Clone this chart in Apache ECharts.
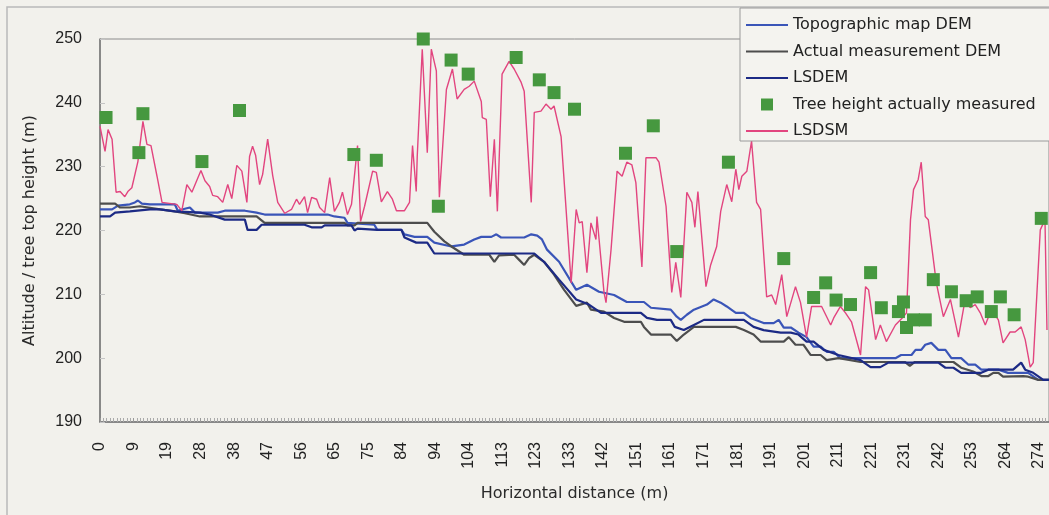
<!DOCTYPE html>
<html><head><meta charset="utf-8">
<script src="https://cdn.jsdelivr.net/npm/echarts@6/dist/echarts.min.js"></script>
<style>html,body{margin:0;padding:0;background:#f2f1ec;}#c{width:1049px;height:515px;}</style>
</head><body><div id="c"></div>
<script>
// x values are sample indices along the profile; tickLabels give the distance (m) every 10 samples
const tickLabels = ['0','9','19','28','38','47','56','65','75','84','94','104','113','123','133','142','151','161','171','181','191','201','211','221','231','242','253','264','274'];
const seriesNames = ['Topographic map DEM','Actual measurement DEM','LSDEM','Tree height actually measured','LSDSM'];

const topoDEM = [[0,223.3],[3.6,223.3],[5.4,223.9],[8.9,224.1],[10.4,224.4],[11.3,224.7],[12.5,224.2],[14.9,224.1],[22.3,224.1],[23.2,223.1],[25.3,223.4],[26.8,223.6],[28.3,222.8],[35.1,222.8],[37.2,223.1],[43.2,223.1],[46.7,222.8],[49.1,222.5],[67.9,222.5],[69.9,222.2],[72.9,222.0],[73.8,221.2],[81.8,220.9],[82.7,220.1],[89.9,220.1],[90.8,219.4],[93.8,219.0],[97.6,219.0],[99.7,218.1],[104.8,217.5],[108.6,217.8],[111.6,218.6],[113.7,219.0],[116.7,219.0],[118.2,219.4],[119.6,218.9],[126.5,218.9],[128.6,219.4],[130.4,219.2],[131.8,218.6],[133.3,217.0],[136.9,215.1],[142.0,210.7],[145.2,211.5],[148.8,210.4],[153.3,209.9],[157.1,208.8],[162.2,208.8],[164.3,207.9],[170.2,207.6],[172.0,206.5],[173.2,206.0],[175.0,206.8],[177.1,207.6],[181.0,208.4],[183.0,209.2],[185.1,208.7],[186.9,208.1],[189.6,207.1],[192.0,207.1],[194.0,206.3],[197.9,205.5],[200.9,205.5],[202.4,206.0],[203.9,204.8],[206.0,204.8],[208.3,204.0],[210.7,203.3],[212.8,201.8],[214.9,201.8],[216.7,201.0],[218.8,201.0],[220.8,200.0],[237.2,200.0],[238.9,200.5],[242.0,200.5],[243.2,201.3],[244.9,201.3],[246.1,202.1],[247.9,202.4],[250.0,201.3],[252.1,201.3],[253.9,200.0],[256.8,200.0],[258.9,199.0],[261.0,199.0],[262.8,198.2],[267.9,198.2],[270.8,197.7],[276.8,197.7],[279.8,196.6],[283,196.6]];

const actualDEM = [[0,224.2],[4.5,224.2],[6.0,223.6],[8.9,223.6],[11.9,223.8],[17.9,223.3],[22.3,223.0],[25.3,222.7],[29.8,222.2],[46.7,222.2],[49.1,221.2],[72.9,221.2],[73.8,220.8],[75.9,220.8],[76.8,221.2],[97.6,221.2],[99.7,219.8],[102.7,218.3],[104.8,217.5],[108.6,216.2],[116.1,216.2],[117.6,215.1],[119.0,216.1],[123.5,216.2],[125.0,215.4],[126.5,214.6],[128.0,215.7],[129.5,216.2],[132.4,215.1],[135.4,213.1],[138.4,210.7],[142.0,208.2],[145.2,208.7],[146.4,207.6],[150.3,207.3],[153.3,206.3],[156.3,205.7],[161.3,205.7],[162.2,204.9],[164.3,203.7],[170.2,203.7],[172.0,202.7],[174.1,203.7],[177.1,204.9],[189.6,204.9],[192.0,204.4],[194.9,203.7],[197.0,202.6],[203.9,202.6],[205.4,203.3],[207.4,202.1],[209.8,202.1],[211.9,200.5],[214.9,200.5],[216.7,199.7],[220.2,200.0],[223.8,199.7],[226.8,199.4],[240.0,199.4],[241.5,198.8],[243.0,199.4],[254.5,199.4],[256.8,198.5],[260.4,197.9],[262.8,197.2],[264.9,197.2],[266.4,197.7],[267.9,197.7],[269.3,197.1],[275.3,197.2],[276.8,197.1],[279.8,196.6],[283,196.6]];

const lsDEM = [[0,222.2],[3.0,222.2],[4.5,222.8],[8.9,223.0],[14.9,223.3],[17.9,223.3],[22.3,223.0],[29.8,222.8],[32.7,222.5],[37.2,221.7],[43.2,221.7],[44.0,220.1],[46.7,220.1],[48.2,220.9],[61.0,220.9],[63.1,220.5],[66.1,220.5],[67.0,220.8],[75.0,220.8],[75.9,220.0],[76.8,220.3],[82.7,220.1],[89.9,220.1],[90.8,218.9],[94.3,218.1],[97.6,218.1],[99.7,216.4],[129.5,216.4],[132.4,215.1],[136.9,212.3],[142.0,209.2],[145.8,208.4],[149.4,207.1],[161.3,207.1],[163.1,206.3],[166.1,206.0],[170.2,206.0],[171.4,204.9],[174.1,204.4],[177.1,205.2],[180.1,206.0],[192.0,206.0],[194.9,204.9],[197.9,204.4],[203.0,204.0],[206.0,204.0],[208.3,203.7],[210.7,202.6],[212.8,202.6],[215.8,201.3],[220.2,200.5],[226.8,199.7],[229.8,198.6],[232.7,198.6],[235.1,199.3],[250.0,199.3],[252.1,198.5],[254.5,198.5],[256.8,197.7],[262.8,197.7],[264.9,198.2],[272.3,198.2],[274.7,199.3],[275.9,198.2],[278.3,197.7],[281.3,196.6],[283,196.6]];

const treeHeight = [[1.8,237.7],[11.6,232.2],[12.8,238.3],[30.4,230.8],[41.6,238.8],[75.7,231.9],[82.4,231.0],[96.4,250.0],[100.9,223.8],[104.7,246.7],[109.8,244.5],[124.1,247.1],[131.0,243.6],[135.4,241.6],[141.5,239.0],[156.7,232.1],[165.0,236.4],[172.0,216.7],[187.4,230.7],[203.9,215.6],[212.8,209.5],[216.4,211.8],[219.5,209.1],[223.8,208.4],[229.8,213.4],[233.0,207.9],[238.1,207.3],[239.6,208.8],[240.5,204.8],[242.6,206.0],[246.1,206.0],[248.5,212.3],[253.9,210.4],[258.3,209.0],[261.6,209.6],[265.8,207.3],[268.5,209.6],[272.6,206.8],[280.7,221.9]];

const lsDSM = [[0,236.3],[1.5,232.4],[2.4,235.8],[3.6,234.3],[4.8,226.0],[6.0,226.1],[7.4,225.3],[8.3,226.1],[9.5,226.7],[11.3,230.8],[12.8,237.1],[14.0,233.5],[15.2,233.3],[17.0,228.5],[18.5,224.4],[22.9,224.1],[24.4,223.1],[25.9,227.2],[27.4,226.0],[30.1,229.4],[31.3,227.8],[32.7,226.9],[33.6,225.5],[35.1,225.3],[36.6,224.4],[38.1,227.2],[39.3,225.0],[40.8,230.2],[42.3,229.3],[43.8,224.4],[44.6,231.6],[45.5,233.2],[46.4,231.8],[47.6,227.2],[48.5,228.8],[50.0,234.3],[51.5,228.6],[53.0,224.4],[55.1,222.7],[57.1,223.3],[58.6,224.9],[59.5,224.1],[61.0,225.3],[61.9,222.8],[63.1,225.2],[64.6,224.9],[65.5,223.6],[67.0,222.8],[68.5,228.3],[69.9,223.0],[71.4,224.4],[72.3,226.0],[73.8,222.5],[75.0,224.1],[76.8,233.3],[77.7,221.4],[78.9,223.8],[81.3,229.3],[82.4,229.1],[83.9,224.5],[85.7,226.1],[87.2,224.9],[88.4,223.1],[90.8,223.1],[92.3,224.4],[93.2,233.3],[94.3,226.1],[94.6,231.6],[96.1,248.4],[97.6,232.2],[98.8,248.4],[100.3,245.0],[101.2,225.2],[103.3,242.1],[105.1,245.3],[106.5,240.6],[108.6,242.1],[110.1,242.6],[111.6,243.4],[113.7,240.2],[114.0,237.7],[115.2,237.4],[116.4,225.3],[117.6,234.3],[118.5,223.0],[119.9,244.5],[122.0,246.5],[123.5,245.3],[125.6,243.2],[126.5,241.8],[128.6,224.4],[129.5,238.5],[131.5,238.7],[133.0,239.8],[134.5,239.0],[135.4,239.5],[137.5,234.7],[140.5,211.8],[142.0,223.3],[142.9,221.2],[143.8,221.4],[145.2,213.4],[146.4,221.2],[147.9,218.6],[148.2,222.2],[150.3,210.3],[150.9,208.7],[152.4,217.0],[154.2,229.3],[155.7,228.5],[157.1,230.7],[158.6,230.3],[159.8,227.5],[161.6,214.3],[162.8,231.4],[165.8,231.4],[166.7,230.7],[168.8,223.8],[170.5,210.3],[171.7,215.0],[173.2,209.5],[175.0,226.0],[176.5,224.4],[177.4,220.5],[178.3,226.1],[180.7,211.2],[182.1,214.6],[183.9,217.5],[185.1,223.0],[186.9,227.2],[188.4,224.5],[189.6,229.6],[190.5,226.4],[191.4,228.5],[192.9,229.3],[194.3,234.0],[195.8,224.4],[197.0,223.3],[198.8,209.6],[200.3,209.9],[201.5,208.4],[203.3,213.1],[204.8,206.5],[207.4,211.2],[208.9,208.7],[210.7,203.3],[212.2,208.1],[215.2,208.1],[217.9,205.2],[218.8,206.3],[220.8,208.1],[222.3,207.1],[224.1,205.7],[226.8,200.5],[228.3,211.2],[229.2,210.7],[231.3,202.9],[232.7,205.2],[234.5,202.6],[237.2,205.2],[239.6,206.5],[240.5,207.1],[241.7,221.7],[242.6,226.4],[244.0,228.0],[244.9,230.7],[246.1,222.2],[247.0,221.7],[249.4,211.8],[251.5,206.5],[253.6,209.2],[256.0,203.3],[258.0,209.2],[259.5,207.9],[261.0,208.4],[262.5,207.1],[264.0,205.2],[265.8,207.6],[267.9,206.0],[269.3,202.4],[271.4,204.1],[272.9,204.1],[274.7,204.9],[275.9,202.9],[277.4,198.6],[278.3,199.3],[280.4,220.1],[281.8,221.7],[282.4,204.4]];

const chart = echarts.init(document.getElementById('c'), null, {renderer:'canvas'});
const axisFont = {fontFamily:'Liberation Sans', fontSize:16, color:'#222'};
const nameFont = {fontFamily:'DejaVu Sans', fontSize:16, color:'#2a2a2a'};
const lineIcon = 'path://M0,0H42V2H0Z';
const squareIcon = 'path://M0,0H10V10H0Z';
chart.setOption({
  animation:false,
  backgroundColor:'#f2f1ec',
  graphic:[{type:'rect', silent:true, z:-10, shape:{x:7,y:7,width:1300,height:800}, style:{fill:'none', stroke:'#b9b9b9', lineWidth:1.5}}],
  grid:{left:100, top:39, width:951, height:383, show:true, borderColor:'#8c8c8c', borderWidth:1, backgroundColor:'transparent'},
  legend:{
    orient:'vertical', left:740, top:8, itemWidth:42, itemHeight:12, itemGap:10.5,
    padding:[9,40,2,6], backgroundColor:'#f4f3ef', borderColor:'#9a9a9a', borderWidth:1,
    textStyle:{fontFamily:'DejaVu Sans', fontSize:16, color:'#222'},
    data:seriesNames.map((n, i) => ({name:n, icon: i === 3 ? squareIcon : lineIcon}))
  },
  xAxis:{
    type:'value', min:0, max:283, interval:10,
    axisLine:{show:true, lineStyle:{color:'#777', width:1.5}},
    axisTick:{show:true, inside:true, length:4, lineStyle:{color:'#999'}},
    minorTick:{show:true, splitNumber:10, length:4, lineStyle:{color:'#aaa'}},
    splitLine:{show:false},
    axisLabel:Object.assign({rotate:90, margin:20, formatter:v => (v % 10 === 0 && tickLabels[v/10] !== undefined) ? tickLabels[v/10] : ''}, axisFont),
    name:'Horizontal distance (m)', nameLocation:'middle', nameGap:64, nameTextStyle:nameFont
  },
  yAxis:{
    type:'value', min:190, max:250, interval:10,
    axisLine:{show:true, lineStyle:{color:'#777', width:1.5}},
    axisTick:{show:true, inside:true, length:5, lineStyle:{color:'#c4c4c4'}},
    splitLine:{show:false},
    axisLabel:Object.assign({margin:18}, axisFont),
    name:'Altitude / tree top height (m)', nameLocation:'middle', nameGap:62, nameTextStyle:nameFont
  },
  series:[
    {name:seriesNames[0], type:'line', data:topoDEM, symbol:'none', lineStyle:{color:'#3a55b8', width:2.2}, itemStyle:{color:'#3a55b8'}},
    {name:seriesNames[1], type:'line', data:actualDEM, symbol:'none', lineStyle:{color:'#4d4d4d', width:2.2}, itemStyle:{color:'#4d4d4d'}},
    {name:seriesNames[2], type:'line', data:lsDEM, symbol:'none', lineStyle:{color:'#1c2a85', width:2.2}, itemStyle:{color:'#1c2a85'}},
    {name:seriesNames[3], type:'scatter', data:treeHeight, symbol:'rect', symbolSize:13, itemStyle:{color:'#46983f', opacity:1}, z:3},
    {name:seriesNames[4], type:'line', data:lsDSM, symbol:'none', lineStyle:{color:'#e2457f', width:1.4}, itemStyle:{color:'#e2457f'}}
  ]
});
</script></body></html>
